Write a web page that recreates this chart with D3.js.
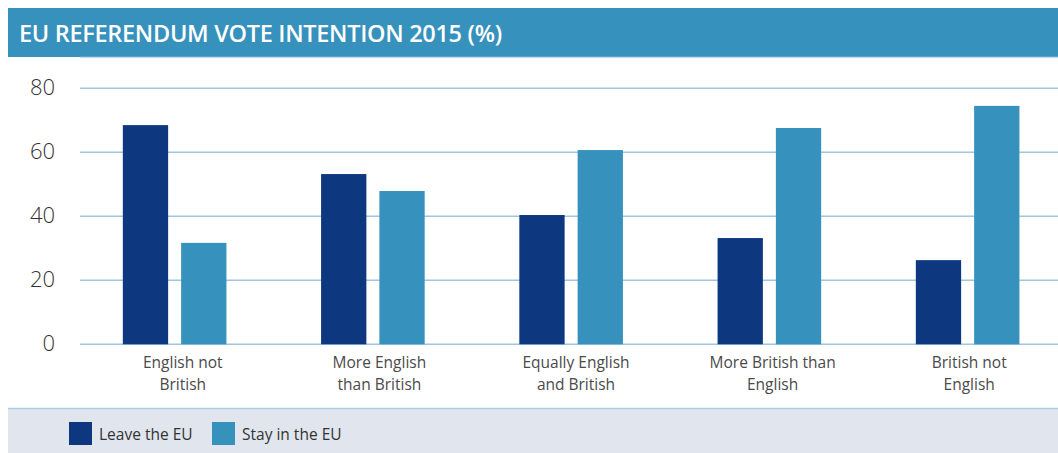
<!DOCTYPE html>
<html>
<head>
<meta charset="utf-8">
<script src="https://cdn.jsdelivr.net/npm/d3@7"></script>
<style>
  body { margin: 0; background: #fff; }
  svg { display: block; font-family: "Open Sans", sans-serif; }
</style>
</head>
<body>
<div id="chart"></div>
<script>
var width = 1058;
var height = 453;

var categories = [
  ["English not", "British"],
  ["More English", "than British"],
  ["Equally English", "and British"],
  ["More British than", "English"],
  ["British not", "English"]
];
var seriesNames = ["Leave the EU", "Stay in the EU"];
var leaveValues = [68.5, 53.2, 40.4, 33.2, 26.3];
var stayValues = [31.7, 47.9, 60.7, 67.6, 74.5];
var yTicks = [0, 20, 40, 60, 80];

var colors = ["#0d3880", "#3791bd"];

var svg = d3.select("#chart")
  .append("svg")
  .attr("width", width)
  .attr("height", height);

// title bar
svg.append("rect")
  .attr("x", 8)
  .attr("y", 8)
  .attr("width", width - 8)
  .attr("height", 49)
  .attr("fill", "#3791bd");

svg.append("text")
  .attr("x", 19)
  .attr("y", 42)
  .attr("fill", "#fff")
  .attr("font-size", "23.5px")
  .attr("font-weight", 600)
  .attr("letter-spacing", "-0.3px")
  .text("EU REFERENDUM VOTE INTENTION 2015 (%)");

svg.append("line")
  .attr("x1", 80).attr("x2", width)
  .attr("y1", 57.5).attr("y2", 57.5)
  .attr("stroke", "#c3dbec")
  .attr("stroke-width", 1.5);

var idx = d3.range(categories.length);

var yScale = d3.scaleLinear()
  .domain([0, 80])
  .range([344.3, 88.3]);

var x0 = d3.scaleBand()
  .domain(idx)
  .range([75.5, 1066.75])
  .paddingInner(0);

var bw = x0.bandwidth();
var x1 = d3.scaleBand()
  .domain([0, 1])
  .range([bw / 2 - 51.8, bw / 2 + 51.8])
  .paddingInner(0.223);

// labels sit a little off the bar groups in the original
var xLabel = d3.scaleBand()
  .domain(idx)
  .range([84.5, 1067.5]);

// grid
svg.append("g")
  .selectAll("line")
  .data(yTicks)
  .enter()
  .append("line")
  .attr("x1", 80)
  .attr("x2", width)
  .attr("y1", function(d) { return yScale(d); })
  .attr("y2", function(d) { return yScale(d); })
  .attr("stroke", "#a3c6e0")
  .attr("stroke-width", 1.5);

var yAxis = d3.axisLeft(yScale)
  .tickValues(yTicks)
  .tickSize(0)
  .tickPadding(0);

var gy = svg.append("g")
  .attr("transform", "translate(55,0)")
  .call(yAxis);
gy.select(".domain").remove();
gy.selectAll("text")
  .attr("font-family", "\"Open Sans\", sans-serif")
  .attr("font-size", "22px")
  .attr("font-weight", 300)
  .attr("fill", "#333")
  .attr("dy", "0.3em");

// bars
var rows = idx.map(function(i) { return [leaveValues[i], stayValues[i]]; });

var groups = svg.append("g")
  .selectAll("g")
  .data(rows)
  .enter()
  .append("g")
  .attr("transform", function(d, i) { return "translate(" + x0(i) + ",0)"; });

groups.selectAll("rect")
  .data(function(d) { return d; })
  .enter()
  .append("rect")
  .attr("x", function(d, j) { return x1(j); })
  .attr("y", function(d) { return yScale(d); })
  .attr("width", x1.bandwidth())
  .attr("height", function(d) { return yScale(0) - yScale(d); })
  .attr("fill", function(d, j) { return colors[j]; });

// category labels
var labels = svg.append("g")
  .selectAll("text")
  .data(categories)
  .enter()
  .append("text")
  .attr("text-anchor", "middle")
  .attr("font-size", "15.5px")
  .attr("fill", "#4a4a4a")
  .attr("transform", function(d, i) {
    return "translate(" + (xLabel(i) + xLabel.bandwidth() / 2) + ",368)";
  });

labels.selectAll("tspan")
  .data(function(d) { return d; })
  .enter()
  .append("tspan")
  .attr("x", 0)
  .attr("dy", function(d, j) { return j === 0 ? 0 : 21.5; })
  .text(function(d) { return d; });

// legend panel
svg.append("rect")
  .attr("x", 8)
  .attr("y", 408)
  .attr("width", width - 8)
  .attr("height", height - 408)
  .attr("fill", "#e1e6ee");

svg.append("line")
  .attr("x1", 8).attr("x2", width)
  .attr("y1", 408.5).attr("y2", 408.5)
  .attr("stroke", "#a9cbe3")
  .attr("stroke-width", 1.5);

var legendX = [69, 212];
var legend = svg.append("g")
  .selectAll("g")
  .data(seriesNames)
  .enter()
  .append("g")
  .attr("transform", function(d, i) { return "translate(" + legendX[i] + ",422)"; });

legend.append("rect")
  .attr("width", 23)
  .attr("height", 23)
  .attr("fill", function(d, i) { return colors[i]; });

legend.append("text")
  .attr("x", 30)
  .attr("y", 17.5)
  .attr("font-size", "15.5px")
  .attr("fill", "#333")
  .text(function(d) { return d; });
</script>
</body>
</html>
